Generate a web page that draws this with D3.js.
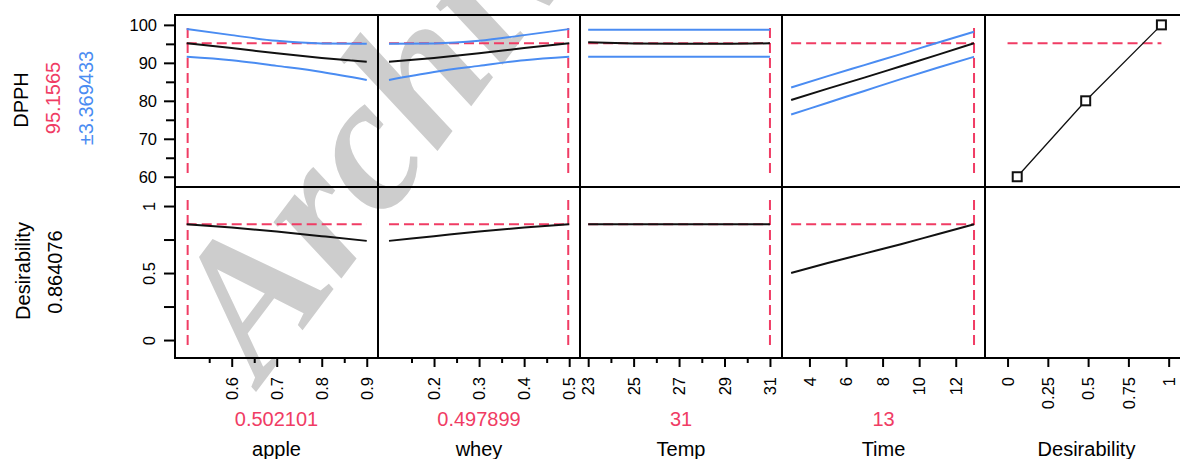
<!DOCTYPE html>
<html><head><meta charset="utf-8">
<script src="https://cdn.jsdelivr.net/npm/d3@7"></script>
<style>
body{margin:0;background:#fff}
svg{display:block}
text{font-family:"Liberation Sans",Arial,sans-serif}
</style>
</head><body>
<svg id="c" width="1180" height="459"></svg>
<script>
// ---------------- data ----------------
const columnTitles = ["apple", "whey", "Temp", "Time", "Desirability"];
const factorCurrent = [0.502101, 0.497899, 31, 13];
const factorCurrentLabels = ["0.502101", "0.497899", "31", "13"];

const appleX     = [0.5, 0.6, 0.7, 0.8, 0.9];
const appleDPPH  = [95.16, 93.9, 92.5, 91.3, 90.3];
const appleUpper = [98.9, 97.3, 95.8, 95.1, 95.0];
const appleLower = [91.6, 90.7, 89.2, 87.6, 85.5];
const appleDesir = [0.864, 0.84, 0.81, 0.775, 0.74];

const wheyX     = [0.1, 0.2, 0.3, 0.4, 0.5];
const wheyDPPH  = [90.3, 91.3, 92.5, 93.9, 95.16];
const wheyUpper = [95.0, 95.1, 95.8, 97.3, 98.9];
const wheyLower = [85.5, 87.6, 89.2, 90.7, 91.6];
const wheyDesir = [0.74, 0.775, 0.81, 0.84, 0.864];

const tempX     = [23, 25, 27, 29, 31];
const tempDPPH  = [95.4, 95.1, 95.0, 95.0, 95.16];
const tempUpper = [98.7, 98.7, 98.7, 98.7, 98.7];
const tempLower = [91.6, 91.6, 91.6, 91.6, 91.6];
const tempDesir = [0.864, 0.864, 0.864, 0.864, 0.864];

const timeX     = [3, 5, 7, 9, 11, 13];
const timeDPPH  = [80.2, 83.2, 86.1, 89.1, 92.1, 95.16];
const timeUpper = [83.5, 86.5, 89.4, 92.3, 95.3, 98.2];
const timeLower = [76.4, 79.5, 82.6, 85.7, 88.7, 91.6];
const timeDesir = [0.50, 0.575, 0.645, 0.715, 0.79, 0.864];

const desirFnD    = [0.06, 0.485, 0.955];
const desirFnDPPH = [60, 80, 100];

const dpphCurrent = 95.1565;
const dpphHalfWidth = 3.369433;
const desirCurrent = 0.864076;

const dpphTicksMajor = [60, 70, 80, 90, 100];
const dpphTicksMinor = [65, 75, 85, 95];
const desirTicksMajor = [0, 0.5, 1];
const desirTicksMinor = [0.25, 0.75];

const xTicksMajor = [[0.6, 0.7, 0.8, 0.9], [0.2, 0.3, 0.4, 0.5], [23, 25, 27, 29, 31], [4, 6, 8, 10, 12], [0, 0.25, 0.5, 0.75, 1]];
const xTicksMinor = [[0.55, 0.65, 0.75, 0.85], [0.15, 0.25, 0.35, 0.45], [24, 26, 28, 30], [], []];

// ---------------- layout ----------------
const RED = "#f03c64", BLUE = "#4a8cf2", BLACK = "#111";
const colEdges = [175, 378, 580, 782, 985, 1188];
const rowTop = 15, rowMid = 187, rowBot = 358;
const xDomains = [[0.474, 0.925], [0.0756, 0.524], [22.64, 31.53], [2.5, 13.6], [-0.14, 1.12]];
const xs = xDomains.map((d, i) => d3.scaleLinear().domain(d).range([colEdges[i], colEdges[i + 1]]));
const yTop = d3.scaleLinear().domain([57.3, 102.6]).range([rowMid, rowTop]);
const yBot = d3.scaleLinear().domain([-0.134, 1.142]).range([rowBot, rowMid]);

const factorX = [appleX, wheyX, tempX, timeX];
const factorPred = [appleDPPH, wheyDPPH, tempDPPH, timeDPPH];
const factorUp = [appleUpper, wheyUpper, tempUpper, timeUpper];
const factorLo = [appleLower, wheyLower, tempLower, timeLower];
const factorDes = [appleDesir, wheyDesir, tempDesir, timeDesir];

const svg = d3.select("#c");

// watermark
svg.append("text")
  .attr("transform", "translate(262,384) rotate(-53)")
  .attr("font-weight", "bold").attr("font-style", "italic")
  .attr("font-size", 192).attr("fill", "#cdcdcd")
  .style("font-family", "'Liberation Serif', 'DejaVu Serif', serif")
  .text("Archive");

const dash = "10,5";
const mk = (x, y) => d3.line().x((d) => x(d[0])).y((d) => y(d[1])).curve(d3.curveMonotoneX);

// factor panels
for (let c = 0; c < 4; c++) {
  const x = xs[c];
  const xv = factorX[c];
  const ext = d3.extent(xv);
  const g = svg.append("g");
  g.append("line").attr("x1", x(ext[0])).attr("x2", x(ext[1]))
    .attr("y1", yTop(dpphCurrent)).attr("y2", yTop(dpphCurrent))
    .attr("stroke", RED).attr("stroke-width", 2).attr("stroke-dasharray", dash);
  g.append("line").attr("x1", x(ext[0])).attr("x2", x(ext[1]))
    .attr("y1", yBot(desirCurrent)).attr("y2", yBot(desirCurrent))
    .attr("stroke", RED).attr("stroke-width", 2).attr("stroke-dasharray", dash);
  const cx = x(factorCurrent[c]);
  g.append("line").attr("x1", cx).attr("x2", cx)
    .attr("y1", rowTop + 13).attr("y2", rowMid - 10)
    .attr("stroke", RED).attr("stroke-width", 2).attr("stroke-dasharray", dash);
  g.append("line").attr("x1", cx).attr("x2", cx)
    .attr("y1", rowMid + 13).attr("y2", rowBot - 8)
    .attr("stroke", RED).attr("stroke-width", 2).attr("stroke-dasharray", dash);
  const lt = mk(x, yTop);
  [factorUp[c], factorLo[c]].forEach((arr) => {
    g.append("path").datum(xv.map((v, i) => [v, arr[i]]))
      .attr("d", lt).attr("fill", "none").attr("stroke", BLUE).attr("stroke-width", 2);
  });
  g.append("path").datum(xv.map((v, i) => [v, factorPred[c][i]]))
    .attr("d", lt).attr("fill", "none").attr("stroke", BLACK).attr("stroke-width", 2);
  g.append("path").datum(xv.map((v, i) => [v, factorDes[c][i]]))
    .attr("d", mk(x, yBot)).attr("fill", "none").attr("stroke", BLACK).attr("stroke-width", 2);
}

// desirability function panel
{
  const x = xs[4];
  const g = svg.append("g");
  g.append("line").attr("x1", x(0)).attr("x2", x(d3.max(desirFnD)))
    .attr("y1", yTop(dpphCurrent)).attr("y2", yTop(dpphCurrent))
    .attr("stroke", RED).attr("stroke-width", 2).attr("stroke-dasharray", dash);
  const pts = desirFnD.map((v, i) => [v, desirFnDPPH[i]]);
  g.append("path").datum(pts)
    .attr("d", d3.line().x((d) => x(d[0])).y((d) => yTop(d[1])))
    .attr("fill", "none").attr("stroke", BLACK).attr("stroke-width", 1.3);
  g.selectAll("rect.pt").data(pts).join("rect").attr("class", "pt")
    .attr("x", (d) => x(d[0]) - 4.5).attr("y", (d) => yTop(d[1]) - 4.5)
    .attr("width", 9).attr("height", 9)
    .attr("fill", "#fff").attr("stroke", BLACK).attr("stroke-width", 2);
}

// panel frames
for (let c = 0; c < 5; c++) {
  [[rowTop, rowMid], [rowMid, rowBot]].forEach(([t, b]) => {
    svg.append("rect").attr("x", colEdges[c]).attr("y", t)
      .attr("width", colEdges[c + 1] - colEdges[c]).attr("height", b - t)
      .attr("fill", "none").attr("stroke", "#000").attr("stroke-width", 2);
  });
}

// axes
function styleAxis(sel) {
  sel.select(".domain").remove();
  sel.selectAll("line").attr("stroke", "#000").attr("stroke-width", 2);
  sel.selectAll("text").attr("fill", "#000").attr("font-size", 16.5)
    .style("font-family", "'Liberation Sans', Arial, sans-serif");
}
const yAxTop = svg.append("g").attr("transform", `translate(${colEdges[0]},0)`)
  .call(d3.axisLeft(yTop).tickValues(dpphTicksMajor).tickSize(11).tickPadding(7).tickFormat(d3.format("d")));
styleAxis(yAxTop);
const yAxTopMin = svg.append("g").attr("transform", `translate(${colEdges[0]},0)`)
  .call(d3.axisLeft(yTop).tickValues(dpphTicksMinor).tickSize(9).tickFormat(""));
styleAxis(yAxTopMin);

const yAxBot = svg.append("g").attr("transform", `translate(${colEdges[0]},0)`)
  .call(d3.axisLeft(yBot).tickValues(desirTicksMajor).tickSize(11).tickFormat(d3.format("")));
styleAxis(yAxBot);
yAxBot.selectAll("text").attr("text-anchor", "middle").attr("transform", "rotate(-90)")
  .attr("x", 0).attr("y", -26).attr("dy", "0.35em");
const yAxBotMin = svg.append("g").attr("transform", `translate(${colEdges[0]},0)`)
  .call(d3.axisLeft(yBot).tickValues(desirTicksMinor).tickSize(11).tickFormat(""));
styleAxis(yAxBotMin);

for (let c = 0; c < 5; c++) {
  const ax = svg.append("g").attr("transform", `translate(0,${rowBot})`)
    .call(d3.axisBottom(xs[c]).tickValues(xTicksMajor[c]).tickSize(9).tickFormat(d3.format("")));
  styleAxis(ax);
  ax.selectAll("text").attr("transform", "rotate(-90)").attr("text-anchor", "end")
    .attr("x", -19).attr("y", 0).attr("dy", "0.35em");
  if (xTicksMinor[c].length) {
    const axm = svg.append("g").attr("transform", `translate(0,${rowBot})`)
      .call(d3.axisBottom(xs[c]).tickValues(xTicksMinor[c]).tickSize(5).tickFormat(""));
    styleAxis(axm);
  }
}
svg.append("line").attr("x1", colEdges[0]).attr("x2", colEdges[5])
  .attr("y1", rowBot).attr("y2", rowBot).attr("stroke", "#000").attr("stroke-width", 2);

// bottom labels
for (let c = 0; c < 5; c++) {
  const mid = (colEdges[c] + colEdges[c + 1]) / 2;
  if (c < 4) {
    svg.append("text").attr("x", mid).attr("y", 426).attr("text-anchor", "middle")
      .attr("font-size", 20).attr("fill", RED).text(factorCurrentLabels[c]);
  }
  svg.append("text").attr("x", mid).attr("y", 456).attr("text-anchor", "middle")
    .attr("font-size", 20).attr("fill", "#000").text(columnTitles[c]);
}

// left labels
const leftLabels = [
  { t: "DPPH", x: 28, y: 100, col: "#000" },
  { t: d3.format(".4f")(dpphCurrent), x: 60, y: 98, col: RED },
  { t: "±" + dpphHalfWidth, x: 93, y: 98, col: BLUE },
  { t: "Desirability", x: 30, y: 271, col: "#000" },
  { t: String(desirCurrent), x: 62, y: 272, col: "#000" }
];
leftLabels.forEach((l) => {
  svg.append("text").attr("transform", `translate(${l.x},${l.y}) rotate(-90)`)
    .attr("text-anchor", "middle").attr("font-size", 20).attr("fill", l.col).text(l.t);
});
</script>
</body></html>
